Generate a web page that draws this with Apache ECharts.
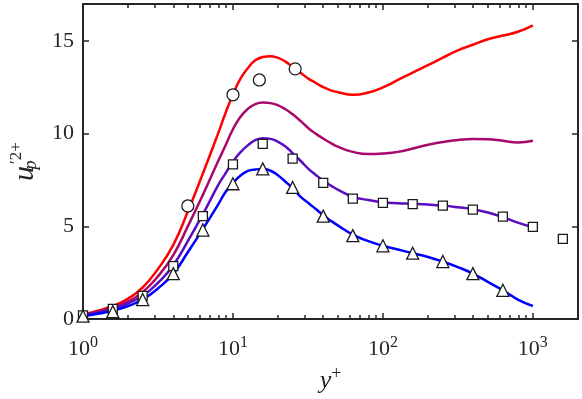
<!DOCTYPE html>
<html>
<head>
<meta charset="utf-8">
<script src="https://cdn.jsdelivr.net/npm/echarts@6/dist/echarts.min.js"></script>
<style>
  html, body { margin: 0; padding: 0; background: #fff; }
  #chart { width: 582px; height: 399px; }
</style>
</head>
<body>
<div id="chart"></div>
<script>
// y+ positions of the curves (log spaced, denser around the peak)
const yPlus = [1, 1.26, 1.58, 2, 2.5, 3.16, 4, 5, 6.3, 8, 8.9, 10, 11.2, 12.6, 14.1, 15.8, 17.8, 20, 22.4, 25,
  28.2, 32, 35.5, 40, 45, 50, 63, 80, 100, 126, 158, 200, 251, 316, 398, 501, 631, 794, 1000]
const redLine = [0.25, 0.45, 0.7, 1.1, 1.7, 2.7, 4.0, 5.8, 7.85, 10.06, 11.1, 12.12, 12.96, 13.55, 13.96, 14.14, 14.18, 14.09, 13.89, 13.6,
  13.29, 12.96, 12.75, 12.51, 12.34, 12.24, 12.1, 12.22, 12.5, 12.9, 13.3, 13.7, 14.1, 14.5, 14.8, 15.1, 15.3, 15.5, 15.85]
const magentaLine = [0.22, 0.4, 0.62, 0.95, 1.45, 2.3, 3.45, 5.0, 6.7, 8.55, 9.35, 10.24, 10.9, 11.35, 11.6, 11.68, 11.65, 11.53, 11.32, 11.05,
  10.69, 10.28, 10.01, 9.74, 9.49, 9.3, 9.02, 8.9, 8.93, 9.02, 9.2, 9.4, 9.55, 9.66, 9.72, 9.7, 9.62, 9.53, 9.62]
const purpleLine = [0.2, 0.35, 0.55, 0.85, 1.25, 1.95, 2.9, 4.2, 5.65, 7.25, 7.85, 8.49, 8.99, 9.38, 9.65, 9.76, 9.72, 9.56, 9.31, 8.95,
  8.54, 8.09, 7.79, 7.47, 7.2, 6.98, 6.6, 6.42, 6.3, 6.25, 6.22, 6.18, 6.12, 6.03, 5.92, 5.75, 5.5, 5.2, 4.95]
const blueLine = [0.15, 0.28, 0.45, 0.7, 1.05, 1.65, 2.45, 3.6, 4.85, 6.2, 6.84, 7.34, 7.73, 7.99, 8.07, 8.1, 8.0, 7.75, 7.41, 7.06,
  6.6, 6.25, 5.95, 5.6, 5.3, 5.05, 4.55, 4.2, 3.95, 3.75, 3.55, 3.35, 3.1, 2.8, 2.45, 2.0, 1.55, 1.05, 0.7]

// markers
const circleX = [5, 10, 15, 26]
const circleY = [6.1, 12.1, 12.9, 13.5]
const squareX = [1, 1.58, 2.5, 4, 6.3, 10, 15.8, 25, 40, 63, 100, 158, 251, 398, 631, 1000, 1585]
const squareY = [0.2, 0.55, 1.25, 2.85, 5.55, 8.35, 9.45, 8.65, 7.35, 6.5, 6.27, 6.2, 6.12, 5.9, 5.52, 4.97, 4.32]
const triangleX = [1, 1.58, 2.5, 4, 6.3, 10, 15.8, 25, 40, 63, 100, 158, 251, 398, 631]
const triangleY = [0.15, 0.4, 1.05, 2.45, 4.8, 7.3, 8.1, 7.1, 5.55, 4.5, 3.95, 3.55, 3.1, 2.45, 1.55]

// ticks
const xMajorTicks = [1, 10, 100, 1000]
const xMinorTicks = [2, 3, 4, 5, 6, 7, 8, 9, 20, 30, 40, 50, 60, 70, 80, 90, 200, 300, 400, 500, 600, 700, 800, 900]
const yTicks = [0, 5, 10, 15]

const ink = '#262626'
const serif = '"Liberation Serif", "Times New Roman", serif'

function zip (xs, ys) {
  return xs.map((x, i) => [x, ys[i]])
}

function lineSeries (name, data, color) {
  return {
    name: name,
    type: 'line',
    smooth: 0.5,
    symbol: 'none',
    data: zip(yPlus, data),
    lineStyle: { color: color, width: 2.5 },
    z: 2
  }
}

function markerSeries (name, xs, ys, symbol, size) {
  return {
    name: name,
    type: 'scatter',
    symbol: symbol,
    symbolSize: size,
    data: zip(xs, ys),
    itemStyle: { color: '#fff', borderColor: '#1a1a1a', borderWidth: 1.3, opacity: 1 },
    z: 5
  }
}

function logAxis (position, ticks, len, showLine, extra) {
  return Object.assign({
    type: 'log',
    logBase: 10,
    min: 1,
    max: 2000,
    position: position,
    axisLine: { show: showLine, onZero: false, lineStyle: { color: ink, width: 2 } },
    axisTick: { show: true, inside: true, length: len, customValues: ticks, lineStyle: { color: ink, width: 1.5 } },
    axisLabel: { show: false },
    splitLine: { show: false }
  }, extra || {})
}

const chart = echarts.init(document.getElementById('chart'))

chart.setOption({
  animation: false,
  backgroundColor: '#fff',
  grid: { left: 72, right: 4, top: 4, bottom: 78 },
  xAxis: [
    logAxis('bottom', xMajorTicks, 6, true, {
      name: '{it|y}{sup|+}',
      nameLocation: 'middle',
      nameGap: 46,
      nameTextStyle: {
        rich: {
          it: { fontFamily: serif, fontStyle: 'italic', fontSize: 26, color: ink },
          sup: { fontFamily: serif, fontSize: 18, color: ink, padding: [0, 0, 14, 0] }
        }
      },
      axisLabel: {
        show: true,
        margin: 16,
        customValues: xMajorTicks,
        formatter: function (v) {
          return '{b|10}{sup|' + Math.round(Math.log10(v)) + '}'
        },
        rich: {
          b: { fontFamily: serif, fontSize: 22, color: ink },
          sup: { fontFamily: serif, fontSize: 16, color: ink, padding: [0, 0, 12, 0] }
        }
      }
    }),
    logAxis('bottom', xMinorTicks, 4, false),
    logAxis('top', xMajorTicks, 6, true),
    logAxis('top', xMinorTicks, 4, false)
  ],
  yAxis: [
    {
      type: 'value',
      min: 0,
      max: 17,
      interval: 5,
      position: 'left',
      name: '{it|u}{sub|p}{sup|′2+}',
      nameLocation: 'middle',
      nameRotate: 90,
      nameGap: 40,
      nameTextStyle: {
        rich: {
          it: { fontFamily: serif, fontStyle: 'italic', fontSize: 30, color: ink },
          sub: { fontFamily: serif, fontStyle: 'italic', fontSize: 18, color: ink, width: 2, padding: [12, 0, 0, 0] },
          sup: { fontFamily: serif, fontSize: 17, color: ink, padding: [0, 0, 18, 0] }
        }
      },
      axisLine: { show: true, onZero: false, lineStyle: { color: ink, width: 2 } },
      axisTick: { show: true, inside: true, length: 6, customValues: yTicks, lineStyle: { color: ink, width: 1.5 } },
      axisLabel: { show: true, margin: 9, customValues: yTicks, fontFamily: serif, fontSize: 22, color: ink },
      splitLine: { show: false }
    },
    {
      type: 'value',
      min: 0,
      max: 17,
      interval: 5,
      position: 'right',
      axisLine: { show: true, onZero: false, lineStyle: { color: ink, width: 2 } },
      axisTick: { show: true, inside: true, length: 6, customValues: yTicks, lineStyle: { color: ink, width: 1.5 } },
      axisLabel: { show: false },
      splitLine: { show: false }
    }
  ],
  series: [
    lineSeries('red', redLine, '#ff0000'),
    lineSeries('magenta', magentaLine, '#a8086c'),
    lineSeries('purple', purpleLine, '#5c0cc0'),
    lineSeries('blue', blueLine, '#0000ff'),
    markerSeries('circles', circleX, circleY, 'circle', 12),
    markerSeries('squares', squareX, squareY, 'rect', 9),
    markerSeries('triangles', triangleX, triangleY, 'triangle', 12)
  ]
})
</script>
</body>
</html>
